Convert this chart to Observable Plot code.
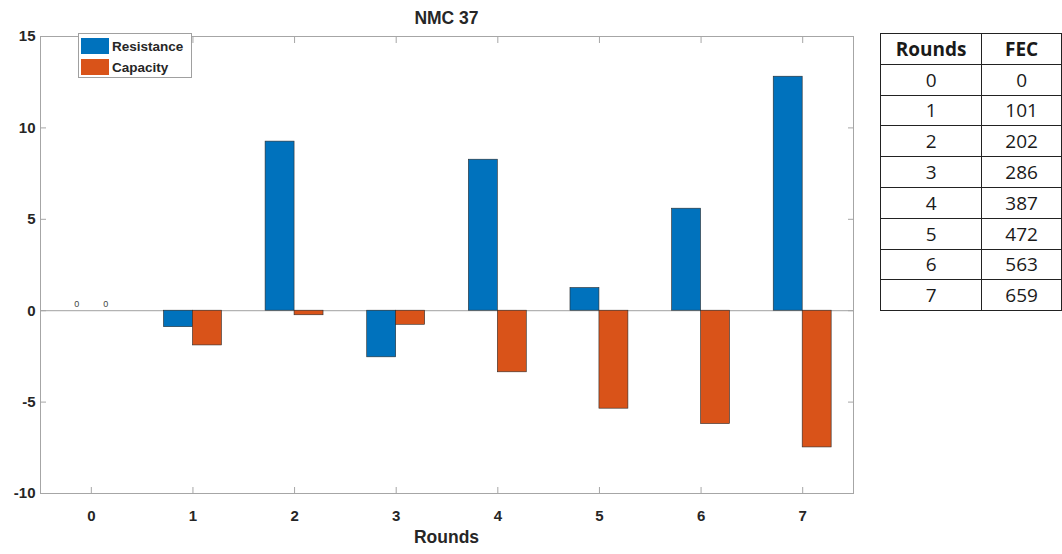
<!DOCTYPE html>
<html>
<head>
<meta charset="utf-8">
<script src="https://cdn.jsdelivr.net/npm/d3@7"></script>
<script src="https://cdn.jsdelivr.net/npm/@observablehq/plot@0.6"></script>
<style>
  body { margin: 0; background: #fff; }
  #wrap { position: relative; width: 1062px; height: 554px; overflow: hidden; font-family: "Liberation Sans", Arial, sans-serif; color: #262626; }
  #chart { position: absolute; left: 0; top: 0; }
  #chart svg g[aria-label="x-axis tick label"] text, #chart svg g[aria-label="y-axis tick label"] text { font-size: 15px; }
  #title { position: absolute; left: 40px; width: 813px; top: 8px; text-align: center; font-weight: bold; font-size: 17.5px; }
  #xlabel { position: absolute; left: 40px; width: 813px; top: 527px; text-align: center; font-weight: bold; font-size: 17.5px; }
  #legend { position: absolute; left: 78px; top: 33px; width: 112px; height: 43px; border: 1px solid #a0a0a0; background: #fff; }
  .lg { position: absolute; left: 2px; height: 20px; display: flex; align-items: center; font-weight: bold; font-size: 13.5px; white-space: nowrap; }
  .sw { width: 28px; height: 16px; margin-right: 3px; }
  #fec { position: absolute; left: 880px; top: 33px; border-collapse: collapse; font-family: "Open Sans", "Noto Sans", sans-serif; font-size: 19px; color: #1a1a1a; }
  #fec td, #fec th { border: 1.5px solid #222; height: 29.8px; padding: 0; text-align: center; line-height: 22px; }
  #fec th { font-weight: bold; }
</style>
</head>
<body>
<div id="wrap">
  <div id="chart"></div>
  <div id="title"></div>
  <div id="xlabel"></div>
  <div id="legend"></div>
  <table id="fec"></table>
</div>
<script>
const rounds = [0, 1, 2, 3, 4, 5, 6, 7];
const resistance = [0, -0.9, 9.25, -2.55, 8.26, 1.24, 5.58, 12.8];
const capacity = [0, -1.9, -0.25, -0.77, -3.37, -5.36, -6.2, -7.48];
const seriesNames = ["Resistance", "Capacity"];
const seriesColors = ["#0072BD", "#D95319"];
const yTicks = [-10, -5, 0, 5, 10, 15];
const fecRounds = [0, 1, 2, 3, 4, 5, 6, 7];
const fecValues = [0, 101, 202, 286, 387, 472, 563, 659];
const titleText = "NMC 37";
const xLabelText = "Rounds";
const tableHeaders = ["Rounds", "FEC"];

const halfGroup = 0.285;
const rows = [];
rounds.forEach((r, i) => {
  [resistance, capacity].forEach((vals, s) => {
    rows.push({round: r, series: seriesNames[s], idx: s, value: vals[i]});
  });
});

const axisStroke = "#a6a6a6";
const chart = Plot.plot({
  width: 870,
  height: 554,
  marginLeft: 40,
  marginRight: 17,
  marginTop: 36,
  marginBottom: 61,
  style: {fontFamily: "'Liberation Sans', Arial, sans-serif", fontSize: "15px", fontWeight: "bold", color: "#262626", background: "transparent"},
  x: {type: "linear", domain: [-0.5, 7.5]},
  y: {domain: [-10, 15]},
  color: {domain: seriesNames, range: seriesColors},
  marks: [
    Plot.ruleY([0], {stroke: "#b3b3b3", strokeWidth: 1.2}),
    Plot.rectY(rows, {
      x1: d => d.round + (d.idx - 1) * halfGroup,
      x2: d => d.round + d.idx * halfGroup,
      y1: 0,
      y2: "value",
      fill: "series",
      stroke: "#2a2a2a",
      strokeWidth: 0.6
    }),
    Plot.text(rows.filter(d => d.value === 0), {
      x: d => d.round + (d.idx - 0.5) * halfGroup,
      y: "value",
      text: d => String(d.value),
      dy: -7,
      fontSize: 9,
      fontWeight: "normal",
      fill: "#444"
    }),
    Plot.frame({stroke: axisStroke}),
    Plot.axisX({ticks: rounds, tickSize: 0, tickPadding: 12, dy: 5, tickFormat: d => String(d), label: null, fontSize: 15}),
    Plot.axisX({anchor: "bottom", ticks: rounds, tickSize: -6, tickFormat: () => "", label: null, stroke: axisStroke}),
    Plot.axisX({anchor: "top", ticks: rounds, tickSize: -6, tickFormat: () => "", label: null, stroke: axisStroke}),
    Plot.axisY({ticks: yTicks, tickSize: 0, tickPadding: 5, tickFormat: d => String(d), label: null, fontSize: 15}),
    Plot.axisY({anchor: "left", ticks: yTicks, tickSize: -6, tickFormat: () => "", label: null, stroke: axisStroke}),
    Plot.axisY({anchor: "right", ticks: yTicks, tickSize: -6, tickFormat: () => "", label: null, stroke: axisStroke})
  ]
});
document.getElementById("chart").appendChild(chart);
document.getElementById("title").textContent = titleText;
document.getElementById("xlabel").textContent = xLabelText;

const legend = document.getElementById("legend");
seriesNames.forEach((name, i) => {
  const item = document.createElement("div");
  item.className = "lg";
  item.style.top = (2 + i * 21) + "px";
  const sw = document.createElement("div");
  sw.className = "sw";
  sw.style.background = seriesColors[i];
  item.appendChild(sw);
  item.appendChild(document.createTextNode(name));
  legend.appendChild(item);
});

const table = document.getElementById("fec");
const hr = document.createElement("tr");
tableHeaders.forEach((h, j) => {
  const th = document.createElement("th");
  th.textContent = h;
  th.style.width = j === 0 ? "101px" : "80px";
  hr.appendChild(th);
});
table.appendChild(hr);
fecRounds.forEach((r, i) => {
  const tr = document.createElement("tr");
  [r, fecValues[i]].forEach(v => {
    const td = document.createElement("td");
    td.textContent = String(v);
    tr.appendChild(td);
  });
  table.appendChild(tr);
});
</script>
</body>
</html>
